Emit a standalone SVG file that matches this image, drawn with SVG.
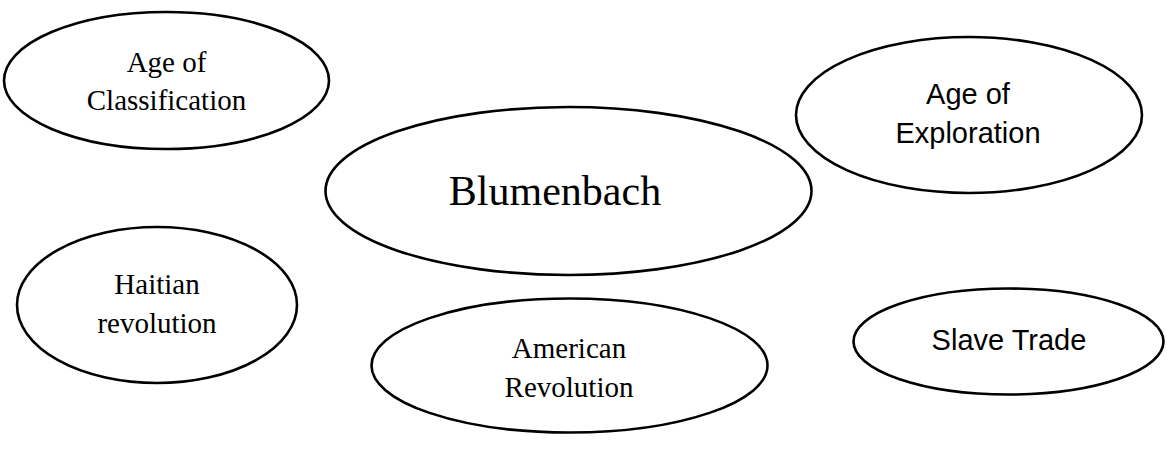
<svg xmlns="http://www.w3.org/2000/svg" width="1170" height="454" viewBox="0 0 1170 454">
<style>
.n{fill:#fff;stroke:#000;stroke-width:2.6}
.s{font-family:"Liberation Serif","Times New Roman",serif;font-size:29px;fill:#000;text-anchor:middle}
.a{font-family:"Liberation Sans",Arial,sans-serif;font-size:29px;fill:#000;text-anchor:middle}
</style>
<rect width="1170" height="454" fill="#fff"/>
<g id="connectors"></g>
<g id="age-classification">
<ellipse class="n" cx="166.5" cy="80.5" rx="162.5" ry="68.5"/>
<text class="s" x="166.5" y="71.5">Age of</text>
<text class="s" x="166.5" y="110">Classification</text>
</g>
<g id="age-exploration">
<ellipse class="n" cx="969" cy="115" rx="173" ry="78"/>
<text class="a" x="968" y="104">Age of</text>
<text class="a" x="968" y="143">Exploration</text>
</g>
<g id="blumenbach">
<ellipse class="n" cx="568.5" cy="191" rx="243" ry="84"/>
<text class="s" x="555" y="205" style="font-size:42px">Blumenbach</text>
</g>
<g id="haitian-revolution">
<ellipse class="n" cx="157" cy="305" rx="140" ry="78"/>
<text class="s" x="157" y="294">Haitian</text>
<text class="s" x="157" y="333">revolution</text>
</g>
<g id="american-revolution">
<ellipse class="n" cx="569.5" cy="365.5" rx="198" ry="67"/>
<text class="s" x="569" y="358">American</text>
<text class="s" x="569" y="397">Revolution</text>
</g>
<g id="slave-trade">
<ellipse class="n" cx="1008.5" cy="341.5" rx="155" ry="53"/>
<text class="a" x="1009" y="350">Slave Trade</text>
</g>
</svg>
